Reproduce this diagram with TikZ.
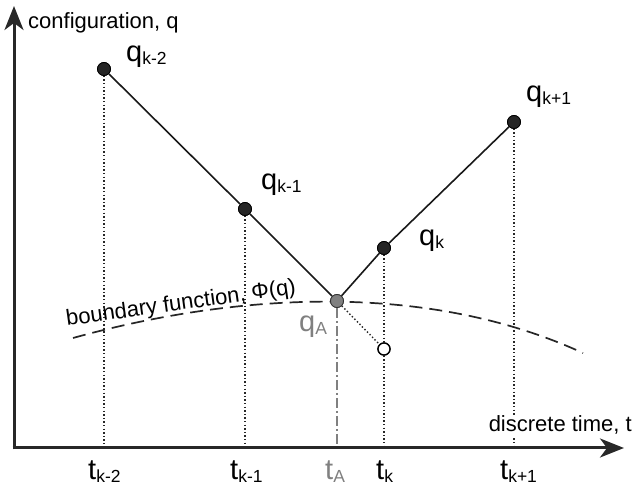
\documentclass[tikz,border=0pt]{standalone}
\usepackage{fontspec}
\setmainfont{Liberation Sans}
\usetikzlibrary{arrows.meta}
\definecolor{gA}{HTML}{808080}
\newcommand{\bigsym}[2]{{\fontsize{29}{29}\selectfont #1}{\fontsize{17.5}{17.5}\selectfont\raisebox{-2.5pt}{#2}}}
\begin{document}
\begin{tikzpicture}[x=1pt,y=-1pt,
  axisline/.style={line width=3pt,draw={rgb,255:red,40;green,40;blue,40},-{Stealth[length=24pt,width=19pt,inset=7pt]}},
  pt/.style={circle,fill=black!85,draw=black,line width=0.8pt,inner sep=0pt,minimum size=13pt},
  ptA/.style={circle,fill=gA,draw=black!80,line width=0.8pt,inner sep=0pt,minimum size=13pt},
  ptopen/.style={circle,fill=white,draw=black,line width=1.3pt,inner sep=0pt,minimum size=12pt},
  dotline/.style={line width=1.4pt,dash pattern=on 1.4pt off 2.2pt,black!85},
  dashdotline/.style={line width=1.6pt,gA,dash pattern=on 10pt off 3pt on 2pt off 3pt},
  bline/.style={line width=1.7pt,dash pattern=on 13pt off 7pt,black!85},
  seg/.style={line width=1.6pt,black!90},
  lab/.style={inner sep=0pt,font=\fontsize{22}{22}\selectfont},
  symlab/.style={inner sep=0pt,anchor=base west}
]
\useasboundingbox (0,0) rectangle (633,486);
\fill[white] (0,0) rectangle (633,486);

\coordinate (O) at (14,448);
\coordinate (ytip) at (14,6);
\coordinate (xtip) at (624,448);

\node[pt] (qk2) at (104,69) {};
\node[pt] (qk1) at (245,209) {};
\node[ptA] (qA) at (337,301) {};
\node[pt] (qk) at (384,248) {};
\node[pt] (qk3) at (514,122) {};
\node[ptopen] (qo) at (384,349) {};

% dotted verticals
\draw[dotline] (qk2) -- (qk2 |- O);
\draw[dotline] (qk1) -- (qk1 |- O);
\draw[dotline] (qk) -- (qo);
\draw[dotline] (qo) -- (qo |- O);
\draw[dotline] (qk3) -- (qk3 |- O);
\draw[dashdotline] (qA) -- (qA |- O);
\draw[dotline] (qA) -- (qo);

% boundary function
\coordinate (b0) at (73,338);
\coordinate (b1) at (583,353);
\draw[bline] (b0) .. controls (232,294) and (424,280) .. (b1);

% trajectory
\draw[seg] (qk2) -- (qk1) -- (qA) -- (qk) -- (qk3);

% redraw points on top
\node[pt] at (qk2) {};
\node[pt] at (qk1) {};
\node[ptA] at (qA) {};
\node[pt] at (qk) {};
\node[pt] at (qk3) {};
\node[ptopen] at (qo) {};

% axes
\node[lab,anchor=base east,fill=white,inner sep=1pt] (xlab) at (633,432) {discrete time, t};
\draw[axisline] (O -| 12.5,0) -- (xtip);
\draw[axisline] (14,449.5) -- (ytip);
\node[lab,anchor=base west] (ylab) at (28,29) {configuration, q};

% boundary label
\node[lab,anchor=base west,rotate=8] (blab) at (67,326) {boundary function, Φ(q)};

% point labels
\node[symlab] (lqk2) at (126,62) {\bigsym{q}{k-2}};
\node[symlab] (lqk1) at (261,190) {\bigsym{q}{k-1}};
\node[symlab] (lqk) at (419,246) {\bigsym{q}{k}};
\node[symlab] (lqk3) at (526,102) {\bigsym{q}{k+1}};
\node[symlab,text=gA] (lqA) at (299,332) {\bigsym{q}{A}};

% time labels
\node[symlab] (tk2) at (88,480) {\bigsym{t}{k-2}};
\node[symlab] (tk1) at (230,480) {\bigsym{t}{k-1}};
\node[symlab,text=gA] (tA) at (325,480) {\bigsym{t}{A}};
\node[symlab] (tk) at (376,480) {\bigsym{t}{k}};
\node[symlab] (tk3) at (500,480) {\bigsym{t}{k+1}};
\end{tikzpicture}
\end{document}
